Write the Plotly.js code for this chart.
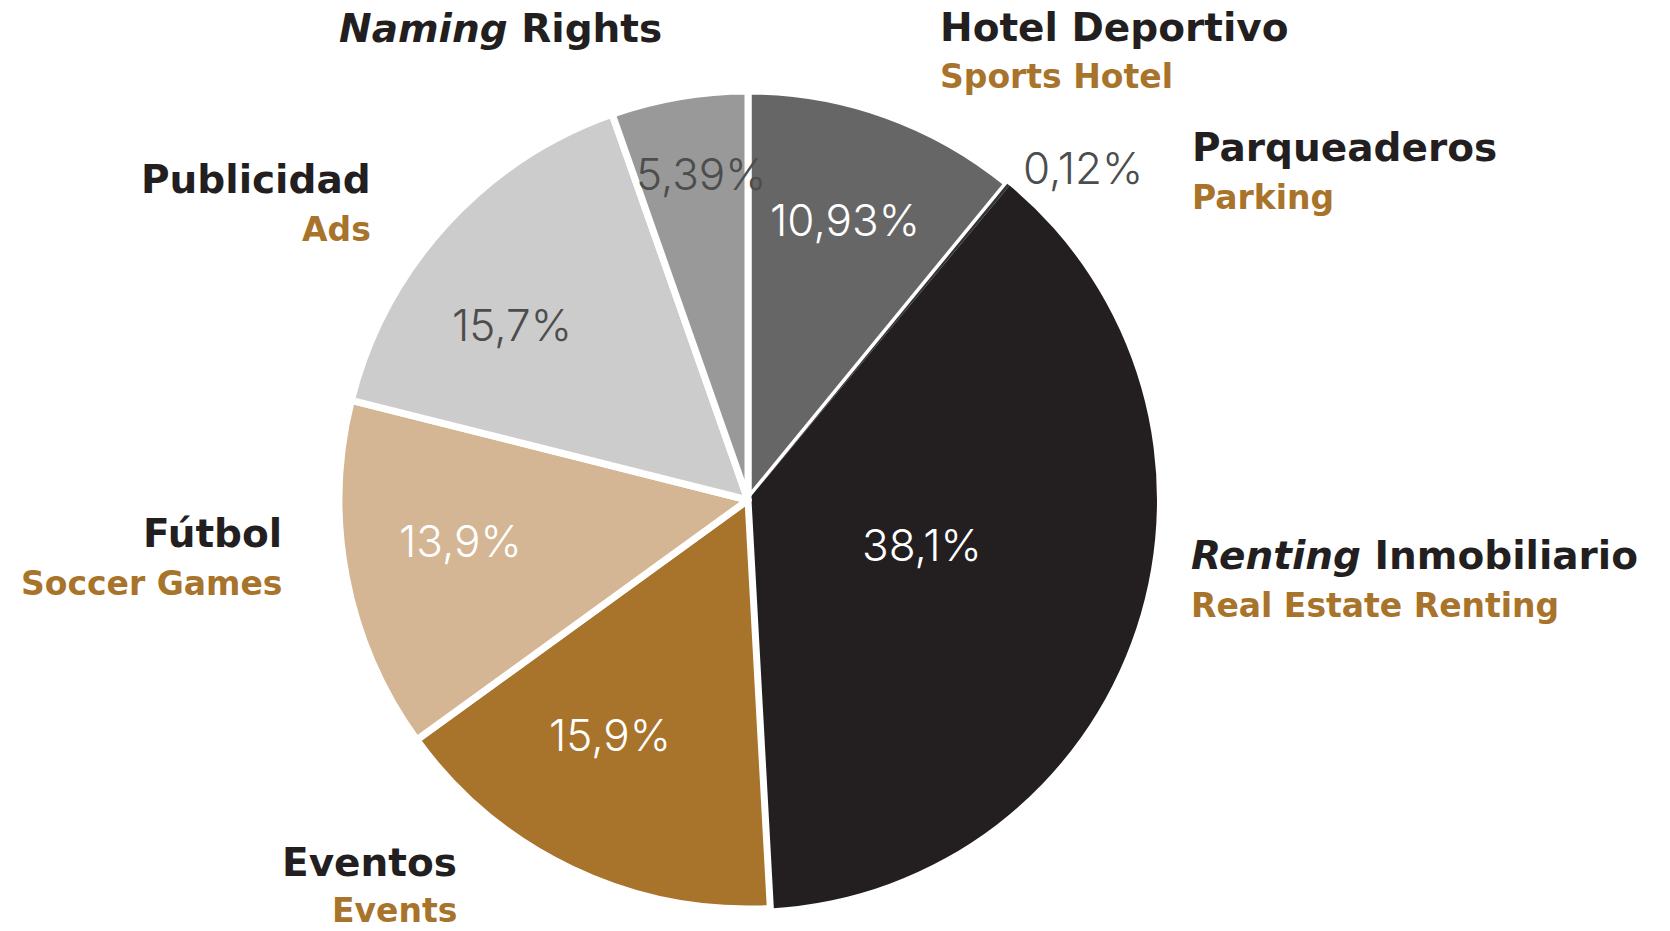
<!DOCTYPE html>
<html>
<head>
<meta charset="utf-8">
<script src="https://cdn.plot.ly/plotly-3.0.1.min.js"></script>
<style>html,body{margin:0;padding:0;background:#fff;}#chart{width:1670px;height:931px;}</style>
</head>
<body>
<div id="chart"></div>
<script>
// ---- data ----
const categories = ['Hotel Deportivo', 'Parqueaderos', 'Renting Inmobiliario', 'Eventos', 'Fútbol', 'Publicidad', 'Naming Rights'];
const categoriesEn = ['Sports Hotel', 'Parking', 'Real Estate Renting', 'Events', 'Soccer Games', 'Ads', ''];
const shares = [10.93, 0.12, 38.1, 15.9, 13.9, 15.7, 5.39];
const shareLabels = ['10,93%', '0,12%', '38,1%', '15,9%', '13,9%', '15,7%', '5,39%'];

// ---- styles / label placement (pixels) ----
const sliceColors = ['#666666', '#333333', '#231f20', '#a8732a', '#d4b694', '#cccccc', '#999999'];
const lineWidths = [7, 0, 0, 7, 7, 7, 7];
const pctColors = ['#ffffff', '#4d4d4d', '#ffffff', '#ffffff', '#ffffff', '#4d4d4d', '#4d4d4d'];
const pctPos = [[845, 220], [1083, 168], [922, 545], [610, 735], [460, 541], [512, 325], [701, 174]];
const namePos = [[938, 27, 'left'], [1190, 147, 'left'], [1189, 555, 'left'], [459, 862, 'right'], [284, 533, 'right'], [373, 180, 'right'], [664, 29, 'right']];
const nameHtml = [null, null, '<i>Renting</i> Inmobiliario', null, null, null, '<i>Naming</i> Rights'];
const enOffset = 50;

const W = 1670, H = 931;
const px = x => x / W;
const py = y => 1 - y / H;

const trace = {
  type: 'pie',
  labels: categories,
  values: shares,
  textinfo: 'none',
  sort: false,
  direction: 'clockwise',
  rotation: 0,
  hole: 0,
  marker: { colors: sliceColors, line: { color: '#ffffff', width: lineWidths } },
  domain: { x: [px(339), px(1157)], y: [py(909), py(91)] },
  hoverinfo: 'label+percent'
};

const darkText = '#231f20';
const brown = '#a8732a';
const LABEL_FAMILY = '"DejaVu Sans", Inter, sans-serif';
const PCT_FAMILY = 'Inter, Roboto, sans-serif';
const bigFont = { family: LABEL_FAMILY, size: 39, weight: 700, color: darkText };
const smallFont = { family: LABEL_FAMILY, size: 33, weight: 700, color: brown };

function ann(text, x, y, anchor, font) {
  return { text: text, x: px(x), y: py(y), xref: 'paper', yref: 'paper', xanchor: anchor, yanchor: 'middle', showarrow: false, font: font };
}

const annotations = [];
categories.forEach((c, i) => {
  const [x, y, a] = namePos[i];
  annotations.push(ann(nameHtml[i] || c, x, y, a, bigFont));
  if (categoriesEn[i]) {
    const yy = Math.min(y + enOffset, 910);
    annotations.push(ann(categoriesEn[i], x, yy, a, smallFont));
  }
  const [tx, ty] = pctPos[i];
  annotations.push(ann(shareLabels[i], tx, ty, 'center', { family: PCT_FAMILY, size: 44, weight: 300, color: pctColors[i] }));
});

const layout = {
  width: W, height: H,
  margin: { l: 0, r: 0, t: 0, b: 0 },
  paper_bgcolor: '#ffffff',
  showlegend: false,
  annotations: annotations
};

Plotly.newPlot('chart', [trace], layout, { displayModeBar: false, staticPlot: true });
</script>
</body>
</html>
